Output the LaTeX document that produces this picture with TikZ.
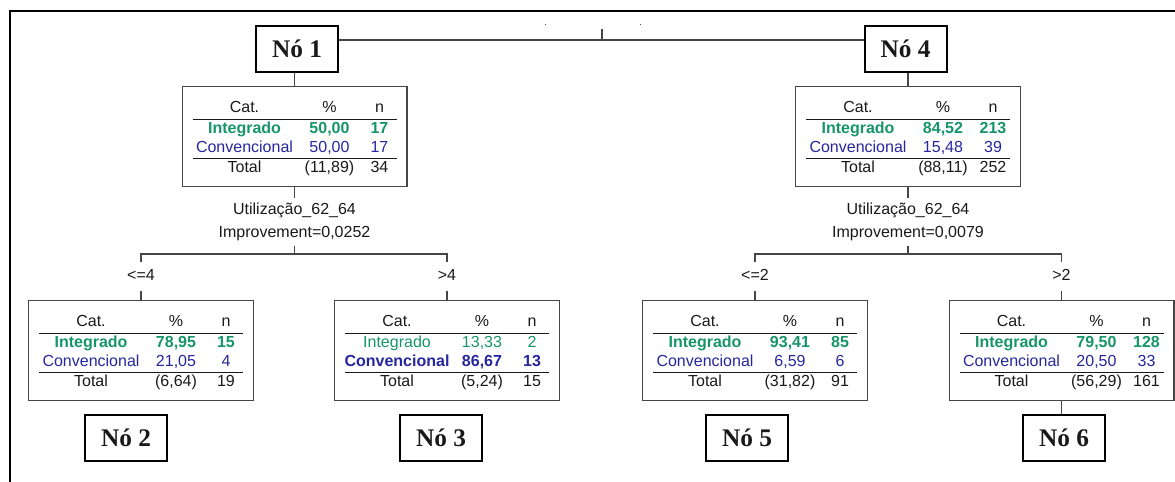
\documentclass[tikz,border=0pt]{standalone}
\usepackage{fontspec}
\usepackage{array}
\setmainfont{Liberation Sans}
\newfontfamily\nofont{Liberation Serif}
\usetikzlibrary{positioning}

\definecolor{verde}{RGB}{22,150,104}
\definecolor{azul}{RGB}{38,38,158}
\definecolor{linha}{RGB}{70,70,70}
\definecolor{preto}{RGB}{25,25,25}

% linhas da tabela de cada no
\newcommand{\integ}[3]{\color{verde}#1Integrado & \color{verde}#1#2 & \color{verde}#1#3}
\newcommand{\conv}[3]{\color{azul}#1Convencional & \color{azul}#1#2 & \color{azul}#1#3}
\newcommand{\arvtab}[3]{%
  \renewcommand{\arraystretch}{1.02}%
  \setlength{\tabcolsep}{0pt}\setlength{\arrayrulewidth}{1pt}%
  \begin{tabular}{w{c}{78pt}w{c}{49.5pt}w{c}{25.5pt}}
    Cat. & \% & n\\ \hline
    #1\\
    #2\\ \hline
    Total & #3
  \end{tabular}}

\begin{document}
\begin{tikzpicture}[
  x=0.75pt, y=-0.75pt,
  every node/.style={font=\fontsize{12}{14}\selectfont, text=preto},
  no/.style={draw=black, line width=1.5pt, minimum width=61.5pt,
             minimum height=34.5pt, inner sep=0pt,
             font=\nofont\bfseries\fontsize{19}{22}\selectfont},
  tab/.style={draw=linha, line width=1pt, minimum width=168.5pt,
              minimum height=74.75pt, inner sep=0pt,
              text height=35pt, text depth=25.2pt},
  split/.style={align=center, inner sep=3.5pt,
                font=\fontsize{12}{17.25}\selectfont},
  ramo/.style={anchor=north, inner xsep=2pt, inner ysep=4.9pt,
               text height=8.4pt, text depth=3.5pt},
  conn/.style={draw=linha, line width=1pt}
]
\useasboundingbox (0,0) rectangle (1175,482);
\draw[line width=1.5pt] (10,482) -- (10,11.3) -- (1175,11.3);

% raiz
\coordinate (topo) at (602,29);
\fill[linha] (544.5,23.5) rectangle ++(1.5,1.5);
\fill[linha] (639.5,23.5) rectangle ++(1.5,1.5);

% primeiro nivel
\node (n1) [no] at (297,48.5) {Nó 1};
\node (n4) [no] at (905.5,48.5) {Nó 4};
\node (t1) [tab] at (294.5,136.5)
  {\arvtab{\integ{\bfseries}{50,00}{17}}{\conv{}{50,00}{17}}{(11,89) & 34}};
\node (t4) [tab] at (908,136.5)
  {\arvtab{\integ{\bfseries}{84,52}{213}}{\conv{}{15,48}{39}}{(88,11) & 252}};
\node (s1) [split, below=8.25pt of t1] {Utilização\_62\_64\\Improvement=0,0252};
\node (s4) [split, below=8.25pt of t4] {Utilização\_62\_64\\Improvement=0,0079};
\coordinate (f1) at (294.5,254);
\coordinate (f4) at (908,254);

% ramos
\node (b2) [ramo] at (141,262) {<=4};
\node (b3) [ramo] at (447,262) {>4};
\node (b5) [ramo] at (755,262) {<=2};
\node (b6) [ramo] at (1061.5,262) {>2};

% segundo nivel
\node (t2) [tab] at (141,350.5)
  {\arvtab{\integ{\bfseries}{78,95}{15}}{\conv{}{21,05}{4}}{(6,64) & 19}};
\node (t3) [tab] at (447,350.5)
  {\arvtab{\integ{}{13,33}{2}}{\conv{\bfseries}{86,67}{13}}{(5,24) & 15}};
\node (t5) [tab] at (755,350.5)
  {\arvtab{\integ{\bfseries}{93,41}{85}}{\conv{}{6,59}{6}}{(31,82) & 91}};
\node (t6) [tab] at (1061.5,350.5)
  {\arvtab{\integ{\bfseries}{79,50}{128}}{\conv{}{20,50}{33}}{(56,29) & 161}};
\node (n2) [no] at (126,438) {Nó 2};
\node (n3) [no] at (441,438) {Nó 3};
\node (n5) [no] at (747,438) {Nó 5};
\node (n6) [no] at (1064,438) {Nó 6};

\draw[conn] ([yshift=6.4pt]n1.east) -- ([yshift=6.4pt]n4.west);
\draw[conn, line width=1.5pt] (topo) -- ++(0,11);
\draw[conn] (n1.south -| t1.north) -- (t1.north);
\draw[conn] (n4.south -| t4.north) -- (t4.north);
\draw[conn] (t1.south) -- (s1.north);
\draw[conn] (t4.south) -- (s4.north);
\draw[conn] (s1.south) -- (f1);
\draw[conn] (s4.south) -- (f4);
\draw[conn] (b2.north) |- (f1);
\draw[conn] (b3.north) |- (f1);
\draw[conn] (b5.north) |- (f4);
\draw[conn] (b6.north) |- (f4);
\draw[conn] (b2.south) -- (t2.north);
\draw[conn] (b3.south) -- (t3.north);
\draw[conn] (b5.south) -- (t5.north);
\draw[conn] (b6.south) -- (t6.north);
\draw[conn] (t6.south) -- (t6.south |- n6.north);
\end{tikzpicture}
\end{document}
